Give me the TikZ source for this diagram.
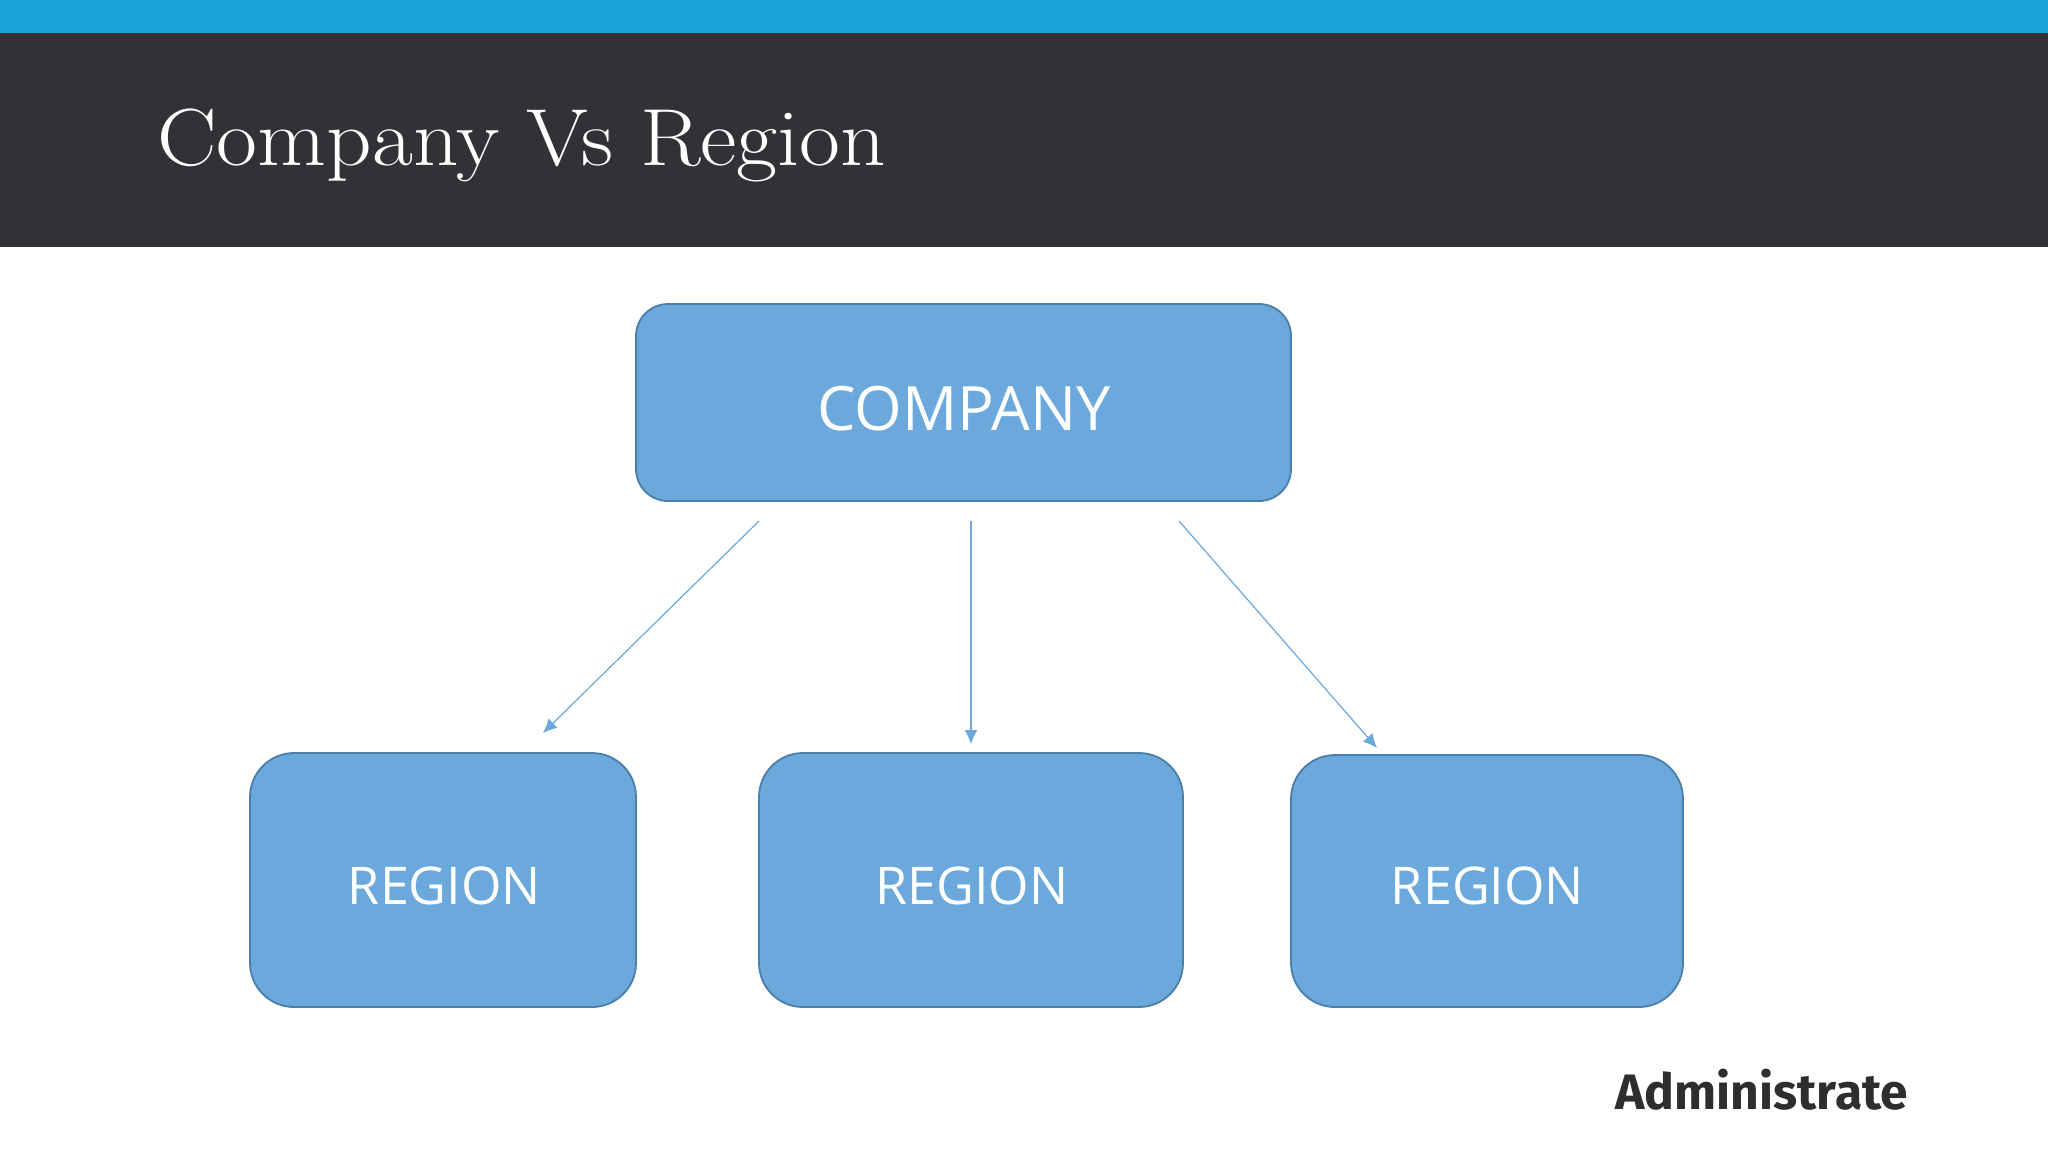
\documentclass[tikz,border=0pt]{standalone}
\usepackage{fontspec}
\usepackage{graphicx}
\setsansfont{Open Sans}
\newfontfamily\logofont{Fira Sans Bold}
\usetikzlibrary{arrows.meta}
\definecolor{topbar}{HTML}{17A2DA}
\definecolor{darkbar}{HTML}{333135}
\definecolor{boxfill}{HTML}{6BA9DC}
\definecolor{boxline}{HTML}{4A7EAB}
\definecolor{arrowcol}{HTML}{6BA9DC}
\definecolor{logocol}{HTML}{2E2D30}
\tikzset{
  boxbase/.style={draw=boxline,fill=boxfill,line width=0.9pt,inner sep=0pt,text=white},
  bigbox/.style={boxbase,rounded corners=16pt},
  smallbox/.style={boxbase,rounded corners=22pt},
  bigtext/.style={text=white,inner sep=0pt,font=\sffamily\fontsize{30.6}{36}\selectfont},
  smalltext/.style={text=white,inner sep=0pt,font=\sffamily\fontsize{26}{31}\selectfont},
  link/.style={draw=arrowcol,line width=0.6pt,-{Latex[length=7pt,width=6.5pt]}}
}
\begin{document}
\begin{tikzpicture}[x=0.5pt,y=-0.5pt]
\useasboundingbox (0,0) rectangle (2048,1152);
\fill[white] (0,0) rectangle (2048,1152);
\fill[topbar] (0,0) rectangle (2048,33);
\fill[darkbar] (0,33) rectangle (2048,247);
\node[anchor=base west,inner sep=0pt,text=white,font=\rmfamily\fontsize{40.5}{50}\selectfont] (title) at (157,165) {\scalebox{1.1}[1]{Company Vs Region}};
\node[bigbox,minimum width=327.5pt,minimum height=98.5pt] (company) at (963.5,402.5) {};
\node[smallbox,minimum width=193pt,minimum height=127pt] (r1) at (443,880) {};
\node[smallbox,minimum width=212pt,minimum height=127pt] (r2) at (971,880) {};
\node[smallbox,minimum width=196pt,minimum height=126pt] (r3) at (1487,881) {};
\node[bigtext] (companytext) at (964,408.5) {COMPANY};
\node[smalltext] (r1text) at (444.5,886) {REGION};
\node[smalltext] (r2text) at (972,886) {REGION};
\node[smalltext] (r3text) at (1487.5,886) {REGION};
\coordinate (s1) at (759,521);
\coordinate (e1) at (543,733);
\coordinate (s2) at (971,521);
\coordinate (e2) at (971,744);
\coordinate (s3) at (1179,521);
\coordinate (e3) at (1377,748);
\draw[link] (s1) -- (e1);
\draw[link] (s2) -- (e2);
\draw[link] (s3) -- (e3);
\node[anchor=base west,inner sep=0pt,text=logocol,font=\logofont\fontsize{24.9}{30}\selectfont] (logo) at (1615,1109) {Administrate};
\end{tikzpicture}
\end{document}
